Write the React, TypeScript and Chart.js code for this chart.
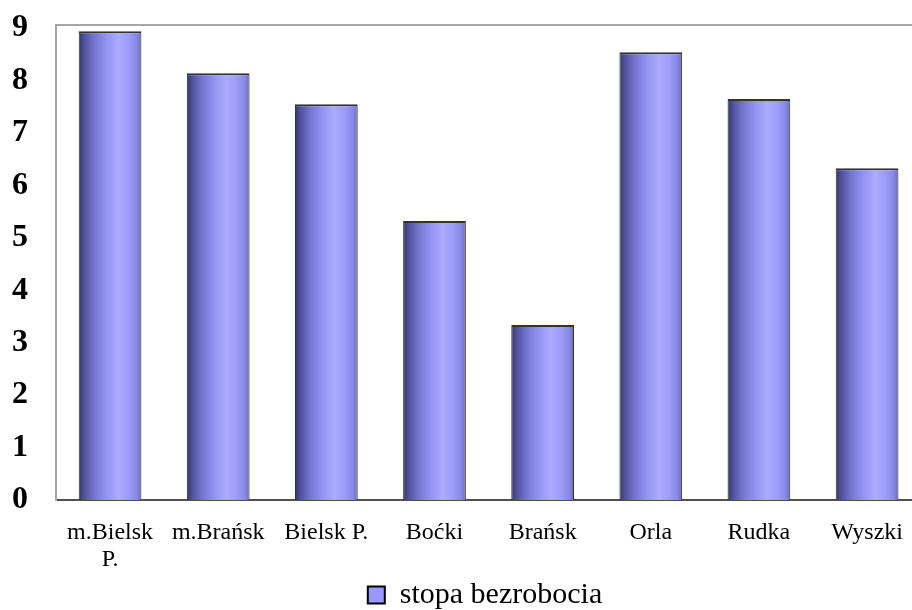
import React, { useEffect, useRef } from "react";
import { Chart, registerables } from "chart.js";

Chart.register(...registerables);

const categories: (string | string[])[] = [
  ["m.Bielsk", "P."],
  "m.Brańsk",
  "Bielsk P.",
  "Boćki",
  "Brańsk",
  "Orla",
  "Rudka",
  "Wyszki",
];
const unemploymentRate = [8.94, 8.14, 7.55, 5.32, 3.34, 8.54, 7.65, 6.33];
const yTickValues = [0, 1, 2, 3, 4, 5, 6, 7, 8, 9];
const seriesLabel = "stopa bezrobocia";

const SERIF = "'Liberation Serif', 'Times New Roman', serif";
const BASE_COLOR = "#9999ff";

export default function App() {
  const ref = useRef<HTMLCanvasElement>(null);

  useEffect(() => {
    const canvas = ref.current;
    if (!canvas) return;

    const customPlugin = {
      id: "cylinderAndFrame",
      afterLayout(chart: any) {
        if (chart.legend) {
          chart.legend.left += 18;
          chart.legend.right += 18;
          chart.legend.top += 10;
          chart.legend.bottom += 10;
        }
      },
      beforeDatasetsDraw(chart: any) {
        const ctx = chart.ctx;
        chart.getDatasetMeta(0).data.forEach((el: any) => {
          const { x, width } = el.getProps(["x", "width"], true);
          const g = ctx.createLinearGradient(x - width / 2, 0, x + width / 2, 0);
          g.addColorStop(0, "#35355f");
          g.addColorStop(0.08, "#4f4f9a");
          g.addColorStop(0.25, "#7676d2");
          g.addColorStop(0.45, "#9494f4");
          g.addColorStop(0.63, "#ababff");
          g.addColorStop(0.8, "#9c9cf8");
          g.addColorStop(0.93, "#8686e4");
          g.addColorStop(1, "#6a6ab8");
          el.options.backgroundColor = g;
        });
      },
      afterDraw(chart: any) {
        const { ctx, chartArea } = chart;
        ctx.save();
        ctx.strokeStyle = "#a6a6a6";
        ctx.lineWidth = 2;
        ctx.beginPath();
        ctx.moveTo(chartArea.left - 1, chartArea.top);
        ctx.lineTo(chartArea.right, chartArea.top);
        ctx.stroke();
        ctx.restore();
      },
    };

    const chart = new Chart(canvas, {
      type: "bar",
      data: {
        labels: categories,
        datasets: [
          {
            label: seriesLabel,
            data: unemploymentRate,
            backgroundColor: () => BASE_COLOR,
            borderColor: "#333333",
            borderWidth: { top: 2, left: 1, right: 1, bottom: 0 },
            borderSkipped: "start",
            barPercentage: 0.58,
            categoryPercentage: 1.0,
          },
        ],
      },
      options: {
        responsive: false,
        animation: false,
        devicePixelRatio: 1,
        layout: { padding: { top: 25, left: 12, right: 0, bottom: 0 } },
        plugins: {
          tooltip: { enabled: false },
          legend: {
            position: "bottom",
            labels: {
              font: { family: SERIF, size: 30 },
              color: "#000000",
              boxWidth: 17,
              boxHeight: 17,
              padding: 0,
              generateLabels: () => [
                {
                  text: seriesLabel,
                  fillStyle: BASE_COLOR,
                  strokeStyle: "#000000",
                  lineWidth: 2,
                  hidden: false,
                  datasetIndex: 0,
                },
              ],
            },
          },
        },
        scales: {
          x: {
            grid: { display: false, drawTicks: false },
            border: { display: true, color: "#505050", width: 2 },
            ticks: {
              font: { family: SERIF, size: 24, lineHeight: 1.125 },
              color: "#000000",
              padding: 19,
              maxRotation: 0,
              autoSkip: false,
            },
            afterFit: (scale: any) => {
              scale.height = 70;
            },
          },
          y: {
            min: 0,
            max: 9.06,
            grid: { display: false, drawTicks: false },
            border: { display: true, color: "#a6a6a6", width: 2 },
            ticks: {
              font: { family: SERIF, size: 32, weight: "bold" },
              color: "#000000",
              padding: 0,
              crossAlign: "far",
              stepSize: 1,
            },
            afterBuildTicks: (scale: any) => {
              scale.ticks = yTickValues.map((v) => ({ value: v }));
            },
            afterFit: (scale: any) => {
              scale.width = 44;
            },
          },
        },
      },
      plugins: [customPlugin],
    });

    return () => {
      chart.destroy();
    };
  }, []);

  return (
    <div
      style={{
        position: "absolute",
        left: 0,
        top: 0,
        width: 912,
        height: 610,
        overflow: "hidden",
        background: "#ffffff",
      }}
    >
      <canvas ref={ref} width={922} height={610} style={{ display: "block" }} />
    </div>
  );
}
